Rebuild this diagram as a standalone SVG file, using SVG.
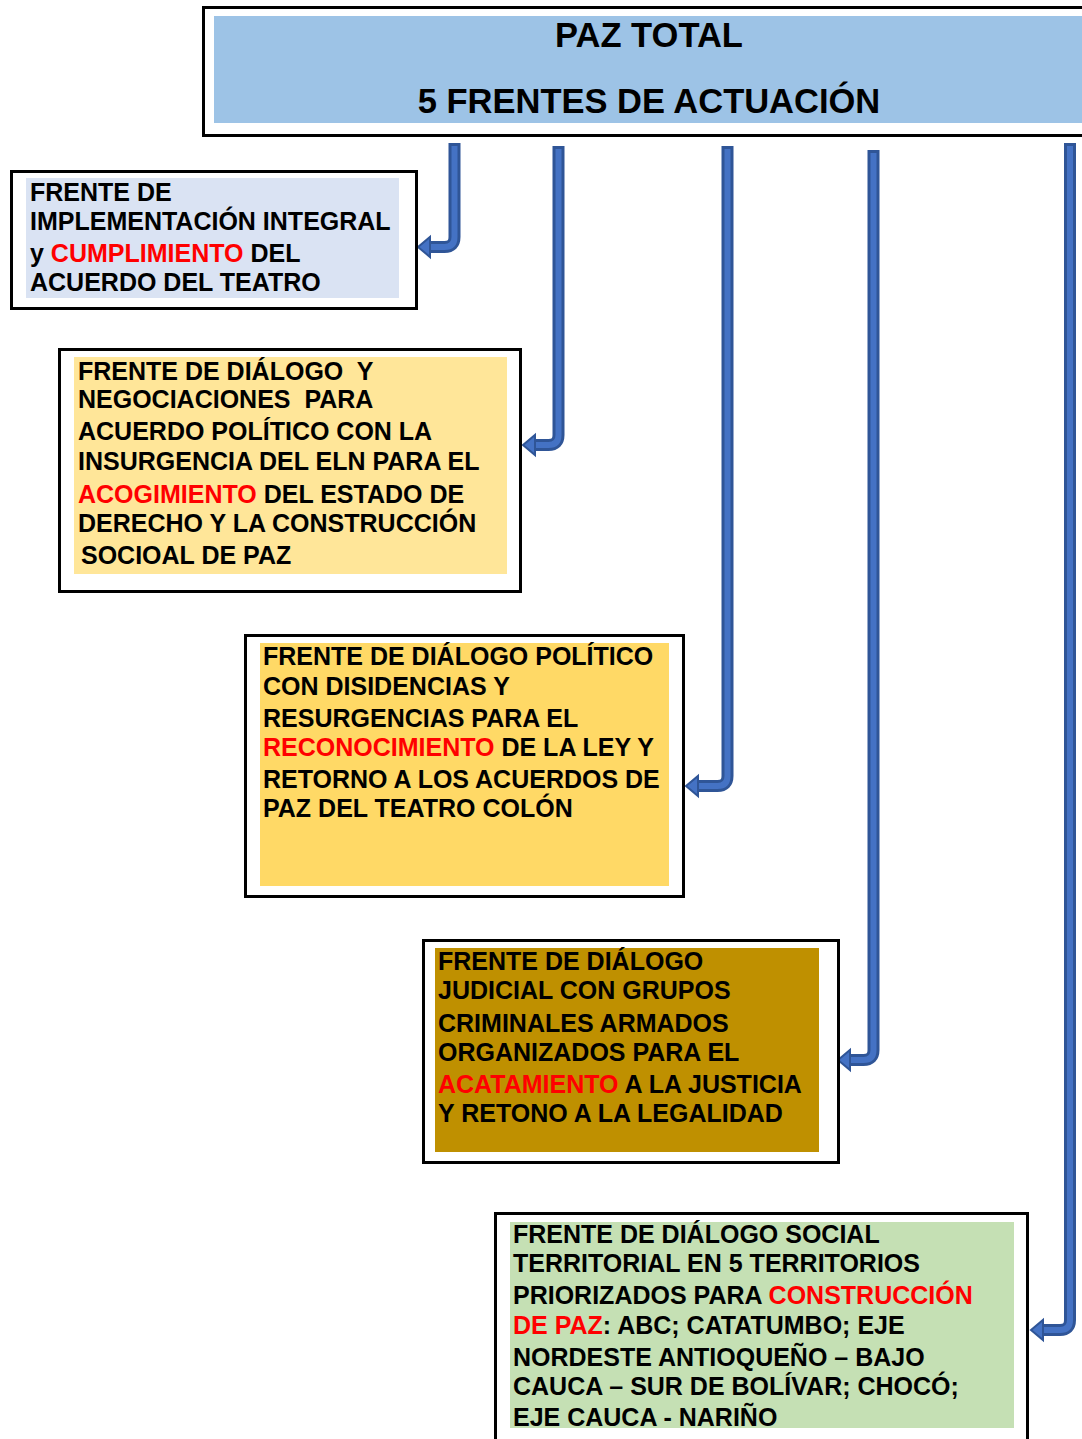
<svg xmlns="http://www.w3.org/2000/svg" width="1082" height="1439" viewBox="0 0 1082 1439">
<style>
.frame{fill:#ffffff;stroke:#000000;stroke-width:3}
.t{font-family:"Liberation Sans",Arial,sans-serif;font-weight:bold;font-size:25px;fill:#000000;white-space:pre}
.title{font-family:"Liberation Sans",Arial,sans-serif;font-weight:bold;font-size:34.5px;fill:#000000;text-anchor:middle}
.r{fill:#ff0000}
.co{fill:none;stroke:#2f5597;stroke-width:12;stroke-linejoin:round}
.ci{fill:none;stroke:#4472c4;stroke-width:6;stroke-linejoin:round}
.ah{fill:#4472c4;stroke:#2f5597;stroke-width:2;stroke-linejoin:miter}
</style>
<rect width="1082" height="1439" fill="#ffffff"/>

<g id="title">
<rect class="frame" x="203.5" y="7.5" width="900" height="128"/>
<rect x="214" y="16" width="880" height="107" fill="#9dc3e6"/>
<text class="title" x="649" y="47">PAZ TOTAL</text>
<text class="title" x="649" y="113">5 FRENTES DE ACTUACIÓN</text>
</g>

<g id="connectors">
<path class="co" d="M454.5,143 V237 Q454.5,247 444.5,247 H428"/>
<path class="ci" d="M454.5,146 V237 Q454.5,247 444.5,247 H428"/>
<polygon class="ah" points="418,247 430,237 430,257"/>

<path class="co" d="M558.5,146 V435 Q558.5,445 548.5,445 H533"/>
<path class="ci" d="M558.5,149 V435 Q558.5,445 548.5,445 H533"/>
<polygon class="ah" points="523,445 535,435 535,455"/>

<path class="co" d="M727.5,146 V776 Q727.5,786 717.5,786 H696"/>
<path class="ci" d="M727.5,149 V776 Q727.5,786 717.5,786 H696"/>
<polygon class="ah" points="686,786 698,776 698,796"/>

<path class="co" d="M873.5,150 V1050 Q873.5,1060 863.5,1060 H848"/>
<path class="ci" d="M873.5,153 V1050 Q873.5,1060 863.5,1060 H848"/>
<polygon class="ah" points="838,1060 850,1050 850,1070"/>

<path class="co" d="M1070,143 V1320 Q1070,1330 1060,1330 H1041"/>
<path class="ci" d="M1070,146 V1320 Q1070,1330 1060,1330 H1041"/>
<polygon class="ah" points="1031,1330 1043,1320 1043,1340"/>
</g>

<g id="frente1">
<rect class="frame" x="11.5" y="171.5" width="405" height="137"/>
<rect x="26" y="178" width="373" height="120" fill="#dae3f3"/>
<text class="t" x="30" y="201">FRENTE DE</text>
<text class="t" x="30" y="230">IMPLEMENTACIÓN INTEGRAL</text>
<text class="t" x="30" y="262">y <tspan class="r">CUMPLIMIENTO</tspan> DEL</text>
<text class="t" x="30" y="291">ACUERDO DEL TEATRO</text>
</g>

<g id="frente2">
<rect class="frame" x="59.5" y="349.5" width="461" height="242"/>
<rect x="74" y="357" width="433" height="217" fill="#ffe699"/>
<text class="t" x="78" y="380">FRENTE DE DIÁLOGO  Y</text>
<text class="t" x="78" y="408">NEGOCIACIONES  PARA</text>
<text class="t" x="78" y="440">ACUERDO POLÍTICO CON LA</text>
<text class="t" x="78" y="470">INSURGENCIA DEL ELN PARA EL</text>
<text class="t" x="78" y="503"><tspan class="r">ACOGIMIENTO</tspan> DEL ESTADO DE</text>
<text class="t" x="78" y="532">DERECHO Y LA CONSTRUCCIÓN</text>
<text class="t" x="81" y="564">SOCIOAL DE PAZ</text>
</g>

<g id="frente3">
<rect class="frame" x="245.5" y="635.5" width="438" height="261"/>
<rect x="260" y="643" width="409" height="243" fill="#ffd966"/>
<text class="t" x="263" y="665">FRENTE DE DIÁLOGO POLÍTICO</text>
<text class="t" x="263" y="695">CON DISIDENCIAS Y</text>
<text class="t" x="263" y="727">RESURGENCIAS PARA EL</text>
<text class="t" x="263" y="756"><tspan class="r">RECONOCIMIENTO</tspan> DE LA LEY Y</text>
<text class="t" x="263" y="788">RETORNO A LOS ACUERDOS DE</text>
<text class="t" x="263" y="817">PAZ DEL TEATRO COLÓN</text>
</g>

<g id="frente4">
<rect class="frame" x="423.5" y="940.5" width="415" height="222"/>
<rect x="435" y="948" width="384" height="204" fill="#bf9000"/>
<text class="t" x="438" y="970">FRENTE DE DIÁLOGO</text>
<text class="t" x="438" y="999">JUDICIAL CON GRUPOS</text>
<text class="t" x="438" y="1032">CRIMINALES ARMADOS</text>
<text class="t" x="438" y="1061">ORGANIZADOS PARA EL</text>
<text class="t" x="438" y="1093"><tspan class="r">ACATAMIENTO</tspan> A LA JUSTICIA</text>
<text class="t" x="438" y="1122">Y RETONO A LA LEGALIDAD</text>
</g>

<g id="frente5">
<rect class="frame" x="495.5" y="1213.5" width="532" height="240"/>
<rect x="510" y="1222" width="504" height="206" fill="#c5e0b4"/>
<text class="t" x="513" y="1243">FRENTE DE DIÁLOGO SOCIAL</text>
<text class="t" x="513" y="1272">TERRITORIAL EN 5 TERRITORIOS</text>
<text class="t" x="513" y="1304">PRIORIZADOS PARA <tspan class="r">CONSTRUCCIÓN</tspan></text>
<text class="t" x="513" y="1334"><tspan class="r">DE PAZ</tspan>: ABC; CATATUMBO; EJE</text>
<text class="t" x="513" y="1366">NORDESTE ANTIOQUEÑO – BAJO</text>
<text class="t" x="513" y="1395">CAUCA – SUR DE BOLÍVAR; CHOCÓ;</text>
<text class="t" x="513" y="1426">EJE CAUCA - NARIÑO</text>
</g>
</svg>
